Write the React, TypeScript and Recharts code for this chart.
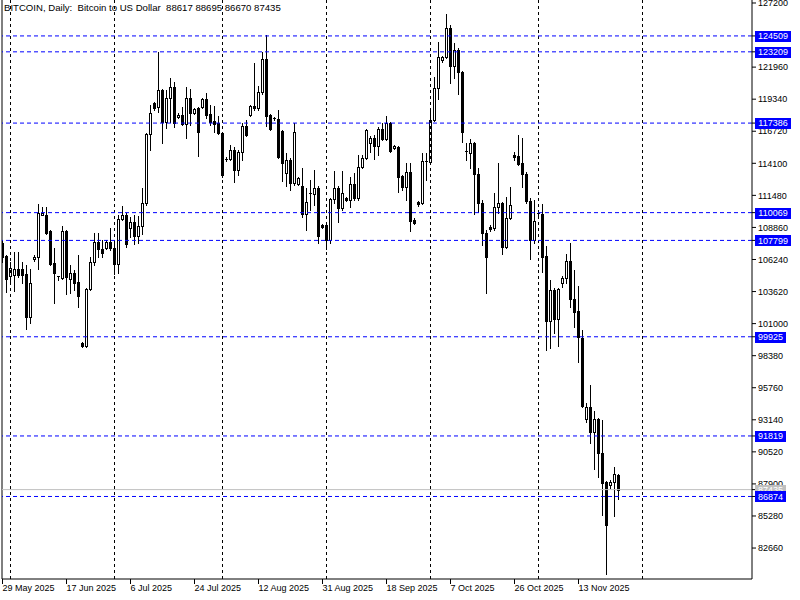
import { Bar, ComposedChart, ReferenceLine, XAxis, YAxis } from "recharts"

// daily candles (first bar = 29 May 2025)
const opens = [
    107590, 106520, 104890, 104970, 105460, 105460, 105050, 101540, 106280, 106440,
    109880, 109880, 108570, 105950, 104810, 104730, 108570, 104650, 105140, 104400,
    99420, 99170, 103830, 106040, 107670, 107100, 107180, 107670, 107180, 105870,
    109550, 109880, 108810, 109300, 108160, 108980, 110860, 116500, 119030, 118700,
    120090, 117480, 119440, 120340, 117880, 118050, 117310, 119440, 118210, 118620,
    118700, 119360, 118130, 117560, 117390, 116580, 114450, 114450, 115190, 113550,
    115020, 117150, 118050, 118780, 118620, 119930, 122620, 118050, 117800, 117720,
    116740, 113310, 114370, 112490, 112410, 112250, 109960, 111670, 111590, 112080,
    109060, 109060, 107830, 111180, 112080, 110450, 111260, 111100, 112410, 111260,
    113800, 114530, 115760, 116170, 115510, 116900, 116090, 117390, 115350, 115430,
    113060, 112160, 113390, 109470, 110940, 110860, 114290, 114210, 117640, 120250,
    122540, 122790, 125160, 122050, 123360, 121560, 115110, 114940, 115760, 113230,
    110860, 108400, 108900, 108810, 110530, 110860, 107260, 109630, 114780, 114700,
    114130, 113230, 111020, 107830, 110040, 109960, 106520, 101210, 103750, 101380,
    104320, 104730, 106120, 103010, 102030, 99820, 93200, 94190, 92140, 93200,
    90430, 88060, 87810, 88060, 88617,
]
const highs = [
    107830, 106600, 106040, 106850, 106850, 106040, 105790, 105460, 106610, 110770,
    110530, 110530, 108650, 107180, 104900, 108980, 108650, 105790, 105380, 106610,
    99500, 103900, 106440, 108400, 108400, 107830, 107830, 108810, 107590, 109880,
    110610, 110040, 109710, 109880, 109790, 112080, 116600, 118860, 119110, 123200,
    120170, 120090, 121070, 120750, 118210, 118700, 120340, 120170, 118620, 118700,
    119440, 119850, 118860, 118780, 117970, 116650, 114620, 115600, 115430, 115190,
    117390, 117640, 118860, 122300, 120420, 123200, 124580, 118130, 117880, 118460,
    116820, 114940, 114530, 117400, 112980, 113720, 112080, 112740, 113550, 112250,
    109140, 109300, 111260, 113470, 112250, 113470, 111350, 112980, 113310, 114780,
    114780, 116900, 116330, 116410, 117070, 117390, 117970, 117480, 115600, 115510,
    113150, 114130, 114130, 109630, 111020, 114940, 114940, 118460, 121150, 124010,
    122870, 126300, 125400, 123930, 123520, 121650, 115760, 116090, 115840, 113720,
    111100, 108650, 109060, 111670, 114130, 110940, 111350, 112160, 115020, 116410,
    116170, 113390, 111260, 111100, 110200, 110770, 107340, 104560, 103910, 103910,
    104890, 106690, 107590, 105380, 104070, 100480, 94510, 95980, 93860, 93280,
    93120, 88140, 88220, 89280, 88695,
]
const lows = [
    106040, 103580, 104320, 103660, 104810, 104320, 100560, 101050, 106120, 105460,
    109880, 108320, 105800, 102680, 104560, 104650, 103420, 103500, 103750, 102360,
    99090, 99090, 103750, 105790, 106440, 106440, 107100, 107020, 105050, 105140,
    109470, 107260, 108080, 107510, 107590, 108320, 110690, 115190, 118460, 118290,
    115760, 116990, 117480, 117070, 117800, 117230, 116170, 117230, 118130, 114700,
    118620, 117800, 117230, 116660, 116500, 112980, 114290, 114370, 112570, 113140,
    114370, 116330, 117970, 118460, 118460, 119760, 117150, 116820, 117640, 114530,
    112650, 112250, 111920, 112330, 112330, 109710, 108650, 110280, 110690, 107590,
    108820, 107100, 107590, 110860, 109300, 110280, 111020, 110530, 111100, 111100,
    113720, 114450, 115020, 114450, 114780, 116000, 116000, 115000, 115270, 111760,
    111920, 111100, 108570, 109140, 110610, 110780, 112740, 114130, 117560, 119360,
    122380, 122700, 120660, 121070, 119760, 115840, 114370, 113720, 109960, 110120,
    107420, 103500, 108570, 108650, 110040, 106690, 107180, 109550, 114370, 113960,
    112160, 110860, 106280, 107590, 109630, 105220, 98840, 99010, 100230, 99170,
    103990, 104320, 102360, 100720, 97860, 94180, 92960, 91240, 89120, 88460,
    85360, 80540, 87570, 85280, 86670,
]
const closes = [
    106440, 104650, 105540, 105460, 104970, 104970, 101540, 104320, 106440, 110040,
    110040, 108400, 105870, 105140, 104890, 108570, 104810, 105140, 104320, 103260,
    99170, 103830, 106040, 107670, 107100, 106770, 107670, 107180, 105870, 109550,
    109880, 107510, 109300, 108160, 108980, 110860, 116500, 118210, 118620, 120090,
    117480, 119440, 120340, 117390, 118050, 117310, 119440, 118210, 118540, 116660,
    119360, 118050, 117480, 117310, 116580, 113140, 114460, 115190, 113550, 115020,
    117150, 116410, 118780, 118620, 119930, 122620, 117970, 116900, 117720, 114620,
    114130, 114370, 112490, 116660, 112900, 109960, 110940, 111590, 112080, 108160,
    108900, 107830, 111180, 112080, 110450, 111670, 111100, 112410, 111260, 113800,
    114530, 116820, 116170, 115510, 116900, 116090, 117390, 115110, 115510, 112980,
    112160, 113390, 109390, 109220, 110770, 114290, 114210, 117640, 120250, 122790,
    122790, 125160, 122050, 123360, 121560, 116660, 115020, 115760, 113230, 110860,
    108400, 106440, 108730, 110530, 110860, 107260, 109630, 110690, 114620, 114040,
    113230, 111020, 107830, 109390, 109960, 106440, 101210, 103750, 101380, 103830,
    104730, 106120, 103010, 101950, 99900, 94270, 94190, 92140, 93200, 90430,
    87970, 84540, 88060, 88710, 87435,
]

const dateTicks = [0, 16, 32, 48, 64, 80, 96, 112, 128, 144]
const dateLabels = [
    "29 May 2025", "17 Jun 2025", "6 Jul 2025", "24 Jul 2025", "12 Aug 2025",
    "31 Aug 2025", "18 Sep 2025", "7 Oct 2025", "26 Oct 2025", "13 Nov 2025",
]
// 124580 sits under the level tags, so it is not listed
const priceTicks = [
    127200, 121960, 119340, 116720, 114100, 111480, 108860, 106240,
    103620, 101000, 98380, 95760, 93140, 90520, 87900, 85280, 82660,
]
const levels = [124509, 123209, 117386, 110069, 107799, 99925, 91819, 86874]
const lastPrice = 87435
// first bar of each month
const monthStarts = [2, 28, 55, 81, 107, 134, 160]
const title = "BITCOIN, Daily:  Bitcoin to US Dollar  88617 88695 86670 87435"

const data = opens.map((o, i) => ({
    idx: i,
    open: o,
    high: highs[i],
    low: lows[i],
    close: closes[i],
}))

const FONT = '"Liberation Sans", Arial, sans-serif'
const FS = 9

const Candle = (props: any) => {
    const { x, y, width, height, payload } = props
    const { open, high, low, close } = payload
    const top = Math.min(y, y + height)
    const h = Math.abs(height)
    const span = high - low || 1
    const py = (p: number) => top + ((high - p) / span) * h
    const cx = Math.floor(x + width / 2) + 0.5
    const yO = py(open)
    const yC = py(close)
    const bodyTop = Math.round(Math.min(yO, yC))
    const bodyBot = Math.round(Math.max(yO, yC))
    const bull = close >= open
    return (
        <g shapeRendering="crispEdges">
            <line x1={cx} x2={cx} y1={Math.round(top)} y2={Math.round(top + h) + 1} stroke="#000" strokeWidth={1} />
            {bodyBot - bodyTop < 2 ? (
                <rect x={cx - 1.5} y={bodyTop} width={3} height={1} fill="#000" />
            ) : bull ? (
                <rect x={cx - 1} y={bodyTop + 0.5} width={2} height={bodyBot - bodyTop} fill="#fff" stroke="#000" strokeWidth={1} />
            ) : (
                <rect x={cx - 1.5} y={bodyTop} width={3} height={bodyBot - bodyTop + 1} fill="#000" />
            )}
        </g>
    )
}

// price scale labels; level prices get a filled tag drawn over the plain labels
const YTick = ({ x, y, payload }: any) => {
    const v = payload.value
    const isLevel = levels.includes(v)
    if (isLevel || v === lastPrice) {
        const w = String(v).length * 5 + 6
        const bx = x - 3
        return (
            <g>
                <rect x={bx} y={Math.round(y) - 5} width={w} height={11} fill={isLevel ? "#0000FF" : "#C0C0C0"} />
                <text x={bx + w / 2} y={y} dy="0.36em" textAnchor="middle" fill="#FFFFFF" fontSize={FS} fontFamily={FONT}>
                    {v}
                </text>
            </g>
        )
    }
    return (
        <text x={x} y={y} dy="0.36em" textAnchor="start" fill="#000" fontSize={FS} fontFamily={FONT}>
            {v}
        </text>
    )
}

const XTick = ({ x, y, payload }: any) => (
    <text x={x} y={y + 5} textAnchor="start" fill="#000" fontSize={FS} fontFamily={FONT}>
        {dateLabels[dateTicks.indexOf(payload.value)]}
    </text>
)

export default function App() {
    return (
        <div style={{ position: "absolute", left: 0, top: 0, width: 800, height: 600, background: "#fff" }}>
            <ComposedChart width={800} height={600} data={data} margin={{ top: 0, right: 0, left: 2, bottom: 0 }}>
                <XAxis
                    dataKey="idx"
                    type="number"
                    domain={[-0.125, 187.375]}
                    ticks={dateTicks}
                    interval={0}
                    height={21}
                    tickSize={5}
                    stroke="#000"
                    tick={<XTick />}
                    allowDataOverflow
                />
                <YAxis
                    orientation="right"
                    type="number"
                    domain={[80130, 127445]}
                    ticks={[...priceTicks, lastPrice, ...levels]}
                    interval={0}
                    width={48}
                    tickSize={4}
                    tickMargin={2}
                    stroke="#000"
                    tick={<YTick />}
                    allowDataOverflow
                />
                <ReferenceLine x={-0.125} stroke="#000" ifOverflow="visible" />
                {monthStarts.map((m) => (
                    <ReferenceLine key={m} x={m} stroke="#000" strokeDasharray="3 3" />
                ))}
                <ReferenceLine y={lastPrice} stroke="#C0C0C0" />
                {levels.map((v) => (
                    <ReferenceLine key={v} y={v} stroke="#0000FF" strokeDasharray="4 3" />
                ))}
                <Bar dataKey={(d: any) => [d.low, d.high]} barSize={3} shape={<Candle />} isAnimationActive={false} />
            </ComposedChart>
            <div
                style={{
                    position: "absolute",
                    left: 4,
                    top: 3,
                    fontFamily: FONT,
                    fontSize: 9.6,
                    lineHeight: "10px",
                    whiteSpace: "pre",
                    color: "#000",
                }}
            >
                {title}
            </div>
        </div>
    )
}
